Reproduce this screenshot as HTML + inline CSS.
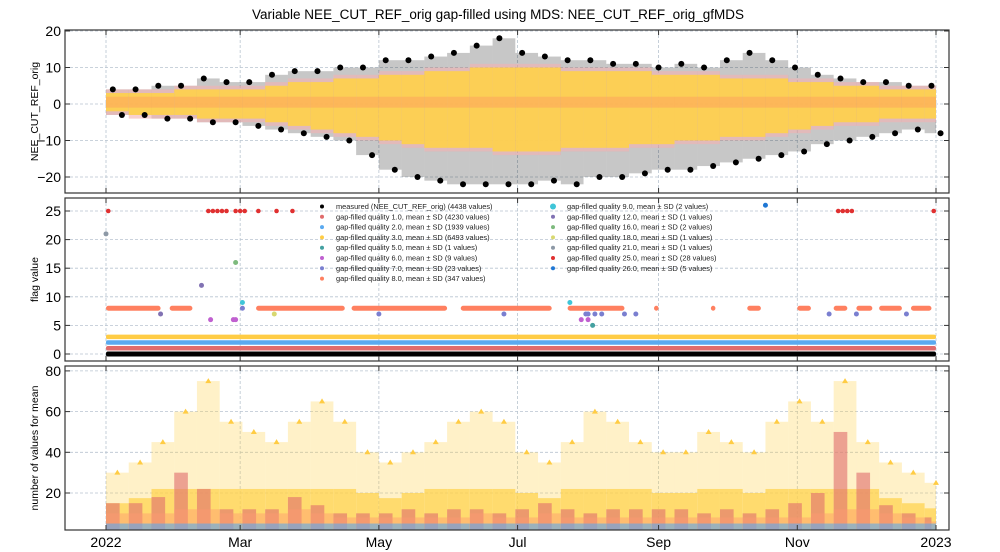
<!DOCTYPE html>
<html><head><meta charset="utf-8"><style>
body{margin:0;background:#fff}
svg{display:block;font-family:"Liberation Sans","DejaVu Sans",sans-serif}
</style></head><body>
<svg id="chart" width="1000" height="552" viewBox="0 0 1000 552" xmlns="http://www.w3.org/2000/svg">
<text x="498" y="19" text-anchor="middle" font-size="13.5">Variable NEE_CUT_REF_orig gap-filled using MDS: NEE_CUT_REF_orig_gfMDS</text>
<g id="p1"></g>
<g id="p2"></g>
<g id="p3"></g>
</svg>
<script>
// ---- data (day-of-year every 10 days) ----
const segDays=[0,10,20,30,40,50,60,70,80,90,100,110,120,130,140,150,160,170,180,190,200,210,220,230,240,250,260,270,280,290,300,310,320,330,340,350,360];
const gfHi=[3,3,3,4,4,4,4,5,6,6,7,7,8,8,9,9,10,10,10,10,9,9,9,9,8,8,8,7,7,7,6,6,5,5,4,4,4];
const gfLo=[-2,-3,-3,-3,-4,-4,-4,-5,-6,-7,-8,-9,-10,-11,-12,-12,-12,-13,-13,-13,-12,-12,-12,-11,-11,-10,-10,-9,-9,-8,-7,-6,-5,-5,-4,-4,-4];
const measHi=[4,4,5,5,7,6,6,8,9,9,10,10,12,12,13,14,16,18,14,13,12,12,11,11,10,11,10,12,14,12,10,8,7,6,6,5,5];
const measLo=[-3,-3,-4,-4,-5,-5,-6,-7,-8,-9,-10,-14,-18,-20,-21,-22,-22,-22,-22,-21,-22,-20,-20,-19,-18,-18,-17,-16,-15,-14,-13,-11,-10,-9,-8,-7,-8];
const cntYellowTop=[30,35,45,60,75,55,50,45,55,65,55,40,35,40,45,55,60,55,40,35,45,60,55,45,40,40,50,45,40,55,65,55,75,45,35,30,25];
const cntRedTop=[15,15,18,30,22,12,12,12,18,14,10,10,10,12,10,12,12,10,12,15,12,10,12,12,12,12,10,12,10,12,15,20,50,30,14,10,8];
const cntBaseTop=[10,10,10,12,12,10,10,10,12,10,8,8,8,8,8,8,10,8,8,10,8,8,8,8,8,8,8,8,8,8,8,10,12,12,10,8,6];
const flagOrangeStart=[0,28,66,108,156,203,241,266,282,304,320,330,340,354];
const flagOrangeEnd=[24,38,105,150,196,228,243,268,288,310,326,337,350,363];
const flag25Days=[1,45,47,49,51,53,57,59,61,67,75,82,322,324,326,328,364];
const extraDays=[0,42,24,57,60,204,211,215,218,228,233,60,120,175,318,330,352,57,46,209,212,56,74,214,212,290];
const extraVals=[21,12,7,16,9,9,7,7,7,7,7,8,7,7,7,7,7,6,6,6,6,6,7,5,7,26];
const extraCols=["#8d99a6","#8172b3","#8172b3","#7dba7d","#3fc5d8","#3fc5d8","#7a7fd0","#7a7fd0","#7a7fd0","#7a7fd0","#7a7fd0","#7a7fd0","#7a7fd0","#7a7fd0","#7a7fd0","#7a7fd0","#7a7fd0","#c060d0","#c060d0","#c060d0","#c060d0","#c060d0","#d8d870","#44a0a0","#7a7fd0","#1f77d4"];
const xTickLabels=["2022","Mar","May","Jul","Sep","Nov","2023"];
const xTickDays=[0,59,120,181,243,304,365];
const y1Ticks=[20,10,0,-10,-20], y2Ticks=[0,5,10,15,20,25], y3Ticks=[20,40,60,80];
const legendLabels=["measured (NEE_CUT_REF_orig) (4438 values)","gap-filled quality 1.0, mean ± SD (4230 values)","gap-filled quality 2.0, mean ± SD (1939 values)","gap-filled quality 3.0, mean ± SD (6493 values)","gap-filled quality 5.0, mean ± SD (1 values)","gap-filled quality 6.0, mean ± SD (9 values)","gap-filled quality 7.0, mean ± SD (23 values)","gap-filled quality 8.0, mean ± SD (347 values)","gap-filled quality 9.0, mean ± SD (2 values)","gap-filled quality 12.0, mean ± SD (1 values)","gap-filled quality 16.0, mean ± SD (2 values)","gap-filled quality 18.0, mean ± SD (1 values)","gap-filled quality 21.0, mean ± SD (1 values)","gap-filled quality 25.0, mean ± SD (28 values)","gap-filled quality 26.0, mean ± SD (5 values)"];
const legendColors=["#000","#e06c6c","#5aaaf0","#ffcc44","#44a0a0","#c060d0","#7a7fd0","#ff8060","#3fc5d8","#8172b3","#7dba7d","#d8d870","#8d99a6","#e03030","#1f77d4"];

// ---- axes ----
const L=65,R=949;
const x=d=>106+d*(936-106)/365;
const P=[{t:30,b:193,y:v=>104-v*3.65},{t:198,b:361,y:v=>354-v*5.72},{t:366,b:530,y:v=>493-(v-20)*2.035}];
const NS="http://www.w3.org/2000/svg";
function mk(g,tag,at,txt){const e=document.createElementNS(NS,tag);for(const k in at)e.setAttribute(k,at[k]);if(txt!==undefined)e.textContent=txt;g.appendChild(e);return e;}
const g1=document.getElementById('p1'),g2=document.getElementById('p2'),g3=document.getElementById('p3');
const G=[g1,g2,g3],YT=[y1Ticks,y2Ticks,y3Ticks],YL=["NEE_CUT_REF_orig","flag value","number of values for mean"];
G.forEach((g,i)=>{const p=P[i];
 xTickDays.forEach(d=>{const l=mk(g,'line',{x1:x(d),x2:x(d),y1:p.t,y2:p.b,stroke:'#b8c4d0','stroke-dasharray':'3,2','stroke-width':0.8});
  });
 YT[i].forEach(v=>{const l=mk(g,'line',{x1:L,x2:R,y1:p.y(v),y2:p.y(v),stroke:'#b8c4d0','stroke-dasharray':'3,2','stroke-width':0.8});
  
  const t=mk(g,'text',{x:L-4,y:p.y(v)+5,'text-anchor':'end','font-size':14},String(v).replace('-','−'));
  });
 const yl=mk(g,'text',{transform:`translate(38,${(p.t+p.b)/2}) rotate(-90)`,'text-anchor':'middle','font-size':10.5},YL[i]);
 
});
xTickDays.forEach((d,i)=>{const t=mk(g3,'text',{x:x(d),y:547,'text-anchor':'middle','font-size':14},xTickLabels[i]);
 });
const wd=d=>Math.min(x(d+10),x(365))-x(d);

// ---- panel 1 ----
segDays.forEach((d,i)=>{const p=P[0],w=wd(d);
 let r=mk(g1,'rect',{x:x(d),y:p.y(measHi[i]),width:w,height:p.y(measLo[i])-p.y(measHi[i]),fill:'#000',opacity:0.22});
 
 r=mk(g1,'rect',{x:x(d),y:p.y(gfHi[i]+1),width:w,height:p.y(gfLo[i]-1)-p.y(gfHi[i]+1),fill:'#f4b0b0',opacity:0.6});
 
 r=mk(g1,'rect',{x:x(d),y:p.y(gfHi[i]),width:w,height:p.y(gfLo[i])-p.y(gfHi[i]),fill:'#ffd24a',opacity:0.9});
 
 r=mk(g1,'rect',{x:x(d),y:p.y(2),width:w,height:p.y(-1)-p.y(2),fill:'#ff8a60',opacity:0.35});
 
 let c=mk(g1,'circle',{cx:x(d+3),cy:p.y(measHi[i]),r:3,fill:'#000'});
 
 c=mk(g1,'circle',{cx:x(d+7),cy:p.y(measLo[i]),r:3,fill:'#000'});
 
});

// ---- panel 2 ----
const p2=P[1];
[[0,'#000',5],[1,'#e06c6c',4.5],[2,'#5aaaf0',4.5],[3,'#ffcc44',4.5]].forEach(([v,c,h])=>{
 const r=mk(g2,'rect',{x:x(0),y:p2.y(v)-h/2,width:x(365)-x(0),height:h,fill:c,rx:2});
 });
flagOrangeStart.forEach((s,i)=>{const r=mk(g2,'rect',{x:x(s),y:p2.y(8)-2.5,width:Math.max(4,x(flagOrangeEnd[i])-x(s)),height:5,fill:'#ff8060',rx:2.5});
 });
flag25Days.forEach(d=>{const c=mk(g2,'circle',{cx:x(d),cy:p2.y(25),r:2.3,fill:'#e03030'});
 });
extraDays.forEach((d,i)=>{const c=mk(g2,'circle',{cx:x(d),cy:p2.y(extraVals[i]),r:2.5,fill:extraCols[i]});
 });
const lg=mk(g2,'g',{});
legendLabels.forEach((t,i)=>{const col=i<8?0:1,row=i<8?i:i-8;const lx=col?553:322,ly=209+row*10.3;
 const m=mk(lg,'circle',{cx:lx,cy:ly-2.5,r:i==8?3:2,fill:legendColors[i]});
 
 const tx=mk(lg,'text',{x:lx+14,y:ly,'font-size':7.4,fill:'#222'},t);
 });

// ---- panel 3 ----
const p3=P[2];
segDays.forEach((d,i)=>{const w=wd(d);const mid=Math.min(22,cntYellowTop[i]*0.5);
 let r=mk(g3,'rect',{x:x(d),y:p3.y(cntYellowTop[i]),width:w,height:p3.y(mid)-p3.y(cntYellowTop[i]),fill:'#ffd24a',opacity:0.3});
 
 r=mk(g3,'rect',{x:x(d),y:p3.y(mid),width:w,height:p3.b-p3.y(mid),fill:'#ffd24a',opacity:0.8});
 
 r=mk(g3,'rect',{x:x(d),y:p3.y(cntRedTop[i]),width:w*0.6,height:p3.b-p3.y(cntRedTop[i]),fill:'#e06c6c',opacity:0.6});
 
 r=mk(g3,'rect',{x:x(d),y:p3.y(cntBaseTop[i]),width:w,height:p3.b-p3.y(cntBaseTop[i]),fill:'#ff9a70',opacity:0.45});
 
 r=mk(g3,'rect',{x:x(d),y:p3.y(5),width:w,height:p3.b-p3.y(5),fill:'#5aaaf0',opacity:0.6});
 
 const tri=mk(g3,'path',{d:`M${x(d+5)-3},${p3.y(cntYellowTop[i])+2}l3,-5l3,5z`,fill:'#ffcc44'});
 
});
// frames
G.forEach((g,i)=>{const p=P[i];const f=mk(g,'rect',{x:L,y:p.t,width:R-L,height:p.b-p.t,fill:'none',stroke:'#333','stroke-width':1.2});
 
 xTickDays.forEach(d=>{mk(g,'line',{x1:x(d),x2:x(d),y1:p.b,y2:p.b-5,stroke:'#333'});mk(g,'line',{x1:x(d),x2:x(d),y1:p.t,y2:p.t+5,stroke:'#333'});});
 YT[i].forEach(v=>{mk(g,'line',{x1:L,x2:L+5,y1:p.y(v),y2:p.y(v),stroke:'#333'});mk(g,'line',{x1:R,x2:R-5,y1:p.y(v),y2:p.y(v),stroke:'#333'});});
});
</script>
</body></html>
